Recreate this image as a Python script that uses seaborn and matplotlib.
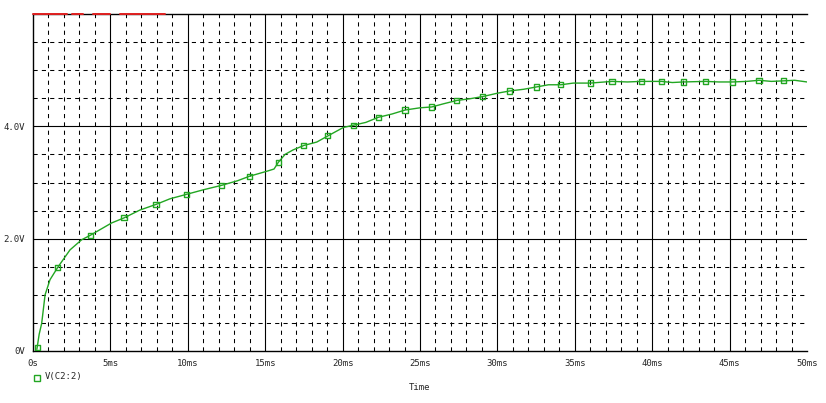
import matplotlib
matplotlib.use("Agg")
import matplotlib.pyplot as plt
import seaborn as sns
import pandas as pd
from matplotlib.lines import Line2D

sns.set_style("white")
plt.rcParams['font.family'] = ['DejaVu Sans Mono', 'DejaVu Sans']

# trace V(C2:2): time in ms, voltage in V
t_ms = [0.25, 0.4, 0.56, 0.78, 1.1, 1.6, 2.39, 3.14, 3.70, 5.08, 5.88, 6.91, 7.95,
        8.85, 9.93, 11.0, 12.19, 13.2, 13.97, 15.1, 15.57, 15.85, 16.28, 16.8,
        17.5, 18.33, 19.05, 20.05, 20.7, 21.5, 22.3, 23.2, 24.03, 25.0, 25.76,
        26.5, 27.37, 28.2, 29.05, 30.0, 30.8, 31.7, 32.5, 33.3, 34.1, 34.9, 36.0,
        37.4, 38.4, 39.3, 40.6, 41.3, 42.0, 43.45, 44.3, 45.2, 46.1, 46.9, 47.7,
        48.5, 49.2, 50.0]
volts = [0.03, 0.30, 0.49, 1.00, 1.27, 1.49, 1.80, 1.98, 2.06, 2.28, 2.37, 2.51, 2.61,
         2.71, 2.79, 2.87, 2.95, 3.03, 3.11, 3.20, 3.24, 3.36, 3.50, 3.58,
         3.66, 3.72, 3.83, 3.98, 4.02, 4.07, 4.16, 4.22, 4.29, 4.33, 4.345,
         4.40, 4.46, 4.49, 4.53, 4.59, 4.63, 4.66, 4.70, 4.74, 4.74, 4.77, 4.77,
         4.80, 4.79, 4.80, 4.80, 4.78, 4.79, 4.80, 4.79, 4.79, 4.80, 4.82, 4.80,
         4.81, 4.82, 4.79]

# symbol markers placed along the trace
mark_t = [0.3, 1.6, 3.70, 5.88, 7.95, 9.93, 12.19, 13.97, 15.85, 17.5, 19.05, 20.7,
          22.3, 24.03, 25.76, 27.37, 29.05, 30.8, 32.5, 34.1, 36.0, 37.4, 39.3,
          40.6, 42.0, 43.45, 45.2, 46.9, 48.5]
mark_v = [0.06, 1.49, 2.06, 2.37, 2.61, 2.79, 2.95, 3.11, 3.36, 3.66, 3.83, 4.02,
          4.16, 4.29, 4.345, 4.46, 4.53, 4.63, 4.70, 4.74, 4.77, 4.80, 4.80,
          4.80, 4.79, 4.80, 4.79, 4.82, 4.81]

x_ticks = [0, 5, 10, 15, 20, 25, 30, 35, 40, 45, 50]
x_labels = ["0s", "5ms", "10ms", "15ms", "20ms", "25ms", "30ms", "35ms", "40ms", "45ms", "50ms"]
y_ticks = [0, 2, 4]
y_labels = ["0V", "2.0V", "4.0V"]

green = "#22a622"

fig = plt.figure(figsize=(8.26, 4.03), dpi=100)
ax = fig.add_axes([33/826, 52/403, 774/826, 337/403])

df = pd.DataFrame({"t": t_ms, "v": volts})
dm = pd.DataFrame({"t": mark_t, "v": mark_v})
sns.lineplot(data=df, x="t", y="v", ax=ax, color=green, linewidth=1.0, zorder=3)
sns.scatterplot(data=dm, x="t", y="v", ax=ax, marker="s", s=14, facecolor="none",
                edgecolor=green, linewidth=1.0, zorder=4)

ax.set_xlim(0, 50)
ax.set_ylim(0, 6)

# grid: dashed minor, solid major
dash = (0, (4, 4))
for xm in range(1, 50):
    if xm % 5 != 0:
        ax.axvline(xm, color="black", linestyle=dash, linewidth=0.75, zorder=1)
for ym in [0.5, 1.0, 1.5, 2.5, 3.0, 3.5, 4.5, 5.0, 5.5]:
    ax.axhline(ym, color="black", linestyle=dash, linewidth=0.75, zorder=1)
for xm in [5, 10, 15, 20, 25, 30, 35, 40, 45]:
    ax.axvline(xm, color="black", linewidth=0.8, zorder=1)
for ym in [2, 4]:
    ax.axhline(ym, color="black", linewidth=0.8, zorder=1)

for s in ["left", "bottom", "top"]:
    ax.spines[s].set_color("black")
    ax.spines[s].set_linewidth(1.0)
ax.spines["right"].set_visible(False)

# red artifact segments on top border
for a, b in [(0, 2.2), (2.5, 3.2), (3.9, 5.0), (5.6, 8.5)]:
    ax.plot([a, b], [6, 6], color="#e02020", linewidth=1.4, clip_on=False, zorder=5)

ax.set_xticks(x_ticks)
ax.set_xticklabels(x_labels, fontsize=6.5)
ax.set_yticks(y_ticks)
ax.set_yticklabels(y_labels, fontsize=6.5)
ax.tick_params(axis="both", direction="out", length=4, width=0.8, color="black", pad=2)
ax.set_xlabel("")
ax.set_ylabel("")

fig.text(420/826, 1 - 388/403, "Time", fontsize=6.5, ha="center", va="center")
fig.add_artist(Line2D([37/826], [1 - 378/403], marker="s", markersize=4.5,
                      markerfacecolor="none", markeredgecolor=green, linestyle="none"))
fig.text(45/826, 1 - 377/403, "V(C2:2)", fontsize=6.5, ha="left", va="center")

fig.savefig("out.png", dpi=100)
